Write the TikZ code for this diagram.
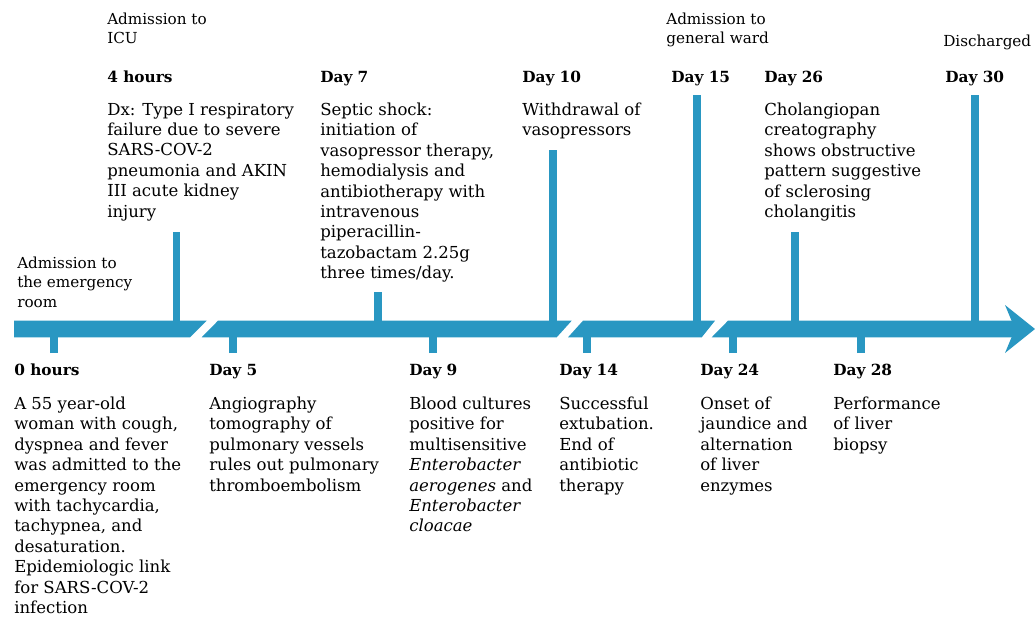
\documentclass[tikz,border=0pt]{standalone}
\usepackage{fontspec}
\setmainfont{DejaVu Serif}
\definecolor{tl}{RGB}{41,151,194}
\begin{document}
\begin{tikzpicture}[x=0.75pt,y=-0.75pt,
  txt/.style={anchor=north west, inner sep=0pt, align=left, font=\fontsize{12.4}{15.3}\selectfont, execute at begin node=\strut, yshift=10.71pt},
  lbl/.style={anchor=base west, inner sep=0pt, font=\fontsize{11.5}{15.3}\selectfont\bfseries},
  adm/.style={anchor=north west, inner sep=0pt, align=left, font=\fontsize{11.4}{14.6}\selectfont, execute at begin node=\strut, yshift=10.22pt},
  tick/.style={draw=tl, line width=5.8pt},
  bar/.style={fill=tl}]
\useasboundingbox (0,0) rectangle (1035,618);
% bar segments
\fill[bar] (14,320.7) -- (206.7,320.7) -- (190,337.3) -- (14,337.3) -- cycle;
\fill[bar] (218,320.7) -- (571.7,320.7) -- (556.7,337.3) -- (201.7,337.3) -- cycle;
\fill[bar] (583,320.7) -- (715,320.7) -- (701.7,337.3) -- (568,337.3) -- cycle;
\fill[bar] (728,320.7) -- (1018,320.7) -- (1018,337.3) -- (711.7,337.3) -- cycle;
\fill[bar] (1005,305) -- (1035,329) -- (1005,353) -- (1015,329) -- cycle;
% ticks up
\coordinate (u1) at (176.5,232); \coordinate (u1b) at (176.5,321);
\coordinate (u2) at (378,292);   \coordinate (u2b) at (378,321);
\coordinate (u3) at (553,150);   \coordinate (u3b) at (553,321);
\coordinate (u4) at (697,95);    \coordinate (u4b) at (697,321);
\coordinate (u5) at (795,232);   \coordinate (u5b) at (795,321);
\coordinate (u6) at (975,95);    \coordinate (u6b) at (975,321);
\foreach \i in {1,...,6} \draw[tick] (u\i) -- (u\i b);
% ticks down
\coordinate (d1) at (54,353);  \coordinate (d1b) at (54,337);
\coordinate (d2) at (233,353); \coordinate (d2b) at (233,337);
\coordinate (d3) at (433,353); \coordinate (d3b) at (433,337);
\coordinate (d4) at (587,353); \coordinate (d4b) at (587,337);
\coordinate (d5) at (733,353); \coordinate (d5b) at (733,337);
\coordinate (d6) at (861,353); \coordinate (d6b) at (861,337);
\foreach \i in {1,...,6} \draw[tick] (d\i) -- (d\i b);
% top texts
\node[adm] (aicu) at (107,26) {Admission to\\ICU};
\node[adm] (agw) at (666,26) {Admission to\\general ward};
\node[adm] (dis) at (943,46) {Discharged};
\node[adm] (aer) at (17,270) {Admission to\\the emergency\\room};
\node[lbl] (l4h) at (107,82) {4 hours};
\node[lbl] (l7) at (320,82) {Day 7};
\node[lbl] (l10) at (522,82) {Day 10};
\node[lbl] (l15) at (671,82) {Day 15};
\node[lbl] (l26) at (764,82) {Day 26};
\node[lbl] (l30) at (945,82) {Day 30};
\node[txt] (t4h) at (107,117) {Dx: Type I respiratory\\failure due to severe\\SARS-COV-2\\pneumonia  and AKIN\\III acute kidney\\injury};
\node[txt] (t7) at (320,117) {Septic shock:\\initiation of\\vasopressor therapy,\\hemodialysis and\\antibiotherapy with\\intravenous\\piperacillin-\\tazobactam 2.25g\\three times/day.};
\node[txt] (t10) at (522,117) {Withdrawal of\\vasopressors};
\node[txt] (t26) at (764,117) {Cholangiopan\\creatography\\shows obstructive\\pattern suggestive\\of sclerosing\\cholangitis};
% bottom texts
\node[lbl] (l0) at (14,375) {0 hours};
\node[lbl] (l5) at (209,375) {Day 5};
\node[lbl] (l9) at (409,375) {Day 9};
\node[lbl] (l14) at (559,375) {Day 14};
\node[lbl] (l24) at (700,375) {Day 24};
\node[lbl] (l28) at (833,375) {Day 28};
\node[txt] (t0) at (14,411) {A 55 year-old\\woman with cough,\\dyspnea and fever\\was admitted to the\\emergency room\\with tachycardia,\\tachypnea, and\\desaturation.\\Epidemiologic link\\for SARS-COV-2\\infection};
\node[txt] (t5) at (209,411) {Angiography\\tomography of\\pulmonary vessels\\rules out pulmonary\\thromboembolism};
\node[txt] (t9) at (409,411) {Blood cultures\\positive for\\multisensitive\\\textit{Enterobacter}\\\textit{aerogenes} and\\\textit{Enterobacter}\\\textit{cloacae}};
\node[txt] (t14) at (559,411) {Successful\\extubation.\\End of\\antibiotic\\therapy};
\node[txt] (t24) at (700,411) {Onset of\\jaundice and\\alternation\\of liver\\enzymes};
\node[txt] (t28) at (833,411) {Performance\\of liver\\biopsy};
\end{tikzpicture}
\end{document}
